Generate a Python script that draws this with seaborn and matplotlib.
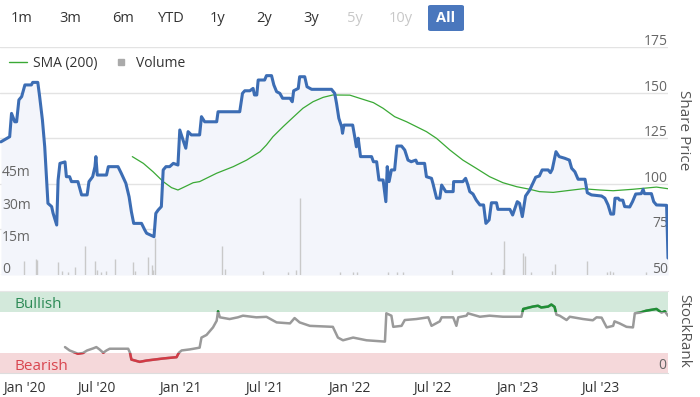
import matplotlib
matplotlib.use("Agg")
import matplotlib.pyplot as plt
import matplotlib.transforms as mtransforms
from matplotlib.lines import Line2D
from matplotlib.patches import FancyBboxPatch
import seaborn as sns
import pandas as pd

# ---- data ----
price_dates = [
    "2019-12-08", "2019-12-27", "2019-12-31", "2020-01-07", "2020-01-11", "2020-01-16", "2020-01-22",
    "2020-01-29", "2020-02-12", "2020-02-15", "2020-02-26", "2020-03-01", "2020-03-07", "2020-03-12",
    "2020-03-19", "2020-03-27", "2020-03-30", "2020-04-07", "2020-04-10", "2020-04-14", "2020-04-25",
    "2020-04-28", "2020-05-05", "2020-05-09", "2020-05-23", "2020-05-31", "2020-06-12", "2020-06-16",
    "2020-06-24", "2020-06-29", "2020-07-01", "2020-07-04", "2020-07-24", "2020-07-28", "2020-08-18",
    "2020-08-25", "2020-09-04", "2020-09-11", "2020-09-16", "2020-09-21", "2020-10-08", "2020-10-15",
    "2020-10-19", "2020-11-04", "2020-11-08", "2020-11-13", "2020-11-20", "2020-11-24", "2020-11-30",
    "2020-12-08", "2020-12-16", "2020-12-26", "2020-12-30", "2021-01-06", "2021-01-12", "2021-01-17",
    "2021-01-24", "2021-02-11", "2021-02-15", "2021-02-22", "2021-03-20", "2021-03-23", "2021-05-09",
    "2021-05-15", "2021-05-20", "2021-05-31", "2021-06-07", "2021-06-10", "2021-06-15", "2021-06-18",
    "2021-07-02", "2021-07-06", "2021-07-17", "2021-07-22", "2021-07-28", "2021-08-04", "2021-08-10",
    "2021-08-26", "2021-08-31", "2021-09-03", "2021-09-13", "2021-09-16", "2021-09-27", "2021-10-02",
    "2021-10-12", "2021-11-24", "2021-12-01", "2021-12-05", "2021-12-10", "2021-12-16", "2021-12-18",
    "2021-12-21", "2022-01-09", "2022-01-14", "2022-01-17", "2022-01-21", "2022-01-26", "2022-02-19",
    "2022-02-23", "2022-03-02", "2022-03-07", "2022-03-16", "2022-03-22", "2022-03-25", "2022-03-29",
    "2022-04-03", "2022-04-10", "2022-04-15", "2022-04-25", "2022-05-02", "2022-05-09", "2022-05-16",
    "2022-05-26", "2022-05-29", "2022-06-14", "2022-06-18", "2022-06-29", "2022-07-02", "2022-07-10",
    "2022-07-17", "2022-07-21", "2022-07-30", "2022-08-15", "2022-08-16", "2022-09-05", "2022-09-11",
    "2022-09-16", "2022-09-20", "2022-09-27", "2022-10-04", "2022-10-12", "2022-10-20", "2022-10-25",
    "2022-11-01", "2022-11-06", "2022-11-17", "2022-11-20", "2022-12-16", "2022-12-22", "2023-01-01",
    "2023-01-06", "2023-01-12", "2023-01-19", "2023-01-28", "2023-02-04", "2023-02-10", "2023-02-18",
    "2023-02-24", "2023-03-09", "2023-03-14", "2023-03-18", "2023-03-26", "2023-04-02", "2023-04-14",
    "2023-04-24", "2023-04-29", "2023-05-06", "2023-05-13", "2023-05-28", "2023-06-02", "2023-06-11",
    "2023-07-03", "2023-07-10", "2023-07-17", "2023-07-23", "2023-07-29", "2023-08-01", "2023-08-08",
    "2023-08-11", "2023-08-18", "2023-08-22", "2023-09-02", "2023-09-08", "2023-09-15", "2023-09-27",
    "2023-10-01", "2023-10-04", "2023-10-19", "2023-10-24", "2023-10-30", "2023-11-21", "2023-11-24",
]
price_values = [
    123.0, 125.8, 138.6, 134.0, 134.0, 146.0, 147.8,
    154.2, 154.2, 155.6, 155.6, 147.8, 135.0, 120.3,
    89.3, 87.5, 84.0, 77.4, 102.0, 111.2, 112.0,
    103.9, 103.9, 101.2, 101.2, 93.9, 93.9, 101.2,
    103.9, 109.4, 114.9, 104.8, 104.8, 109.4, 109.4,
    105.8, 100.3, 92.9, 84.7, 78.3, 78.3, 74.7,
    72.9, 71.0, 83.8, 85.6, 87.5, 107.6, 109.4,
    109.4, 111.2, 110.3, 129.5, 124.0, 119.5, 128.6,
    126.8, 126.8, 136.8, 134.0, 134.0, 139.5, 139.5,
    149.6, 151.0, 151.0, 152.3, 148.7, 148.7, 156.9,
    156.9, 159.3, 159.3, 154.2, 150.5, 149.6, 146.9,
    146.9, 145.0, 151.0, 152.3, 158.7, 158.7, 153.2,
    151.8, 151.8, 149.6, 144.1, 135.9, 131.3, 127.7,
    132.2, 132.2, 125.0, 120.3, 125.0, 114.9, 114.9,
    112.1, 112.1, 102.1, 102.1, 90.2, 109.4, 101.2,
    107.6, 107.6, 120.7, 120.7, 118.5, 113.0, 112.1,
    113.0, 111.2, 111.2, 103.9, 103.0, 100.3, 92.1,
    92.1, 99.3, 95.7, 95.7, 101.2, 101.2, 103.0,
    99.3, 95.7, 94.4, 91.1, 88.4, 88.4, 78.3,
    80.2, 89.6, 89.6, 86.0, 86.0, 82.9, 90.2,
    89.3, 82.0, 93.3, 96.6, 100.3, 103.6, 104.3,
    107.6, 107.6, 106.1, 108.0, 117.6, 114.9, 114.0,
    113.0, 108.5, 106.6, 102.5, 102.5, 95.1, 93.9,
    93.3, 92.1, 88.4, 83.4, 83.4, 92.1, 92.1,
    91.1, 91.0, 87.5, 87.3, 90.2, 94.4, 94.6,
    97.0, 94.6, 94.6, 90.2, 88.4, 88.2, 59.3,
]

sma_dates = [
    "2020-09-18", "2020-10-12", "2020-11-02", "2020-11-24", "2020-12-12", "2020-12-26", "2021-01-10",
    "2021-01-28", "2021-02-11", "2021-03-20", "2021-04-25", "2021-05-24", "2021-06-22", "2021-07-06",
    "2021-07-20", "2021-08-11", "2021-09-02", "2021-09-23", "2021-10-15", "2021-11-06", "2021-11-27",
    "2022-01-03", "2022-01-24", "2022-02-23", "2022-03-16", "2022-04-10", "2022-05-06", "2022-06-18",
    "2022-07-10", "2022-08-08", "2022-09-05", "2022-10-04", "2022-11-02", "2022-12-01", "2022-12-31",
    "2023-01-28", "2023-02-18", "2023-03-20", "2023-04-18", "2023-05-24", "2023-06-29", "2023-07-28",
    "2023-09-09", "2023-10-30", "2023-11-24",
]
sma_values = [
    114.9, 111.2, 106.6, 101.2, 97.9, 96.6, 98.4,
    100.6, 101.2, 105.8, 109.4, 113.0, 117.6, 121.3,
    125.8, 131.3, 136.5, 141.4, 145.0, 147.4, 148.7,
    148.6, 146.9, 144.5, 141.4, 136.8, 134.0, 128.6,
    124.9, 118.5, 113.0, 108.5, 103.9, 100.6, 98.4,
    97.0, 95.7, 95.3, 96.2, 97.3, 96.6, 96.2,
    97.0, 98.2, 97.3,
]

volume_dates = [
    "2020-01-27", "2020-02-22", "2020-02-25", "2020-04-10", "2020-04-18", "2020-05-02", "2020-05-17",
    "2020-06-07", "2020-06-30", "2020-07-04", "2020-07-13", "2020-07-24", "2020-08-11", "2020-09-19",
    "2020-09-24", "2020-10-21", "2020-10-30", "2020-11-02", "2020-11-06", "2021-03-31", "2021-04-07",
    "2021-06-28", "2021-08-22", "2021-09-09", "2021-09-16", "2021-12-12", "2022-01-10", "2022-01-18",
    "2022-03-26", "2022-04-15", "2022-04-28", "2022-08-13", "2022-11-06", "2022-12-01", "2022-12-03",
    "2023-01-14", "2023-01-18", "2023-01-30", "2023-03-18", "2023-03-23", "2023-06-02", "2023-07-14",
    "2023-07-21", "2023-07-28", "2023-10-08",
]
volume_millions = [
    6.5, 7.3, 7.0, 6.2, 2.0, 1.5, 3.5,
    13.5, 6.5, 2.5, 1.5, 2.0, 7.3, 6.0,
    2.0, 8.5, 4.5, 2.5, 17.0, 13.5, 3.0,
    2.0, 1.5, 2.5, 36.0, 1.5, 1.2, 1.2,
    1.2, 1.2, 1.2, 2.5, 1.2, 3.0, 16.0,
    10.0, 9.0, 1.5, 2.0, 5.0, 6.6, 1.2,
    1.8, 1.2, 1.2,
]

rank_dates = [
    "2020-04-25", "2020-05-05", "2020-05-23", "2020-06-03", "2020-06-12", "2020-06-25", "2020-07-02",
    "2020-07-09", "2020-07-17", "2020-07-24", "2020-07-31", "2020-09-09", "2020-09-13", "2020-09-16",
    "2020-10-04", "2020-10-19", "2020-11-24", "2020-12-23", "2020-12-28", "2021-01-03", "2021-01-21",
    "2021-02-11", "2021-02-15", "2021-02-26", "2021-03-12", "2021-03-20", "2021-03-23", "2021-03-27",
    "2021-04-17", "2021-05-05", "2021-05-16", "2021-06-14", "2021-07-06", "2021-07-28", "2021-08-26",
    "2021-09-05", "2021-09-16", "2021-10-08", "2021-11-27", "2021-12-08", "2021-12-19", "2022-01-10",
    "2022-02-08", "2022-03-20", "2022-03-23", "2022-04-03", "2022-04-07", "2022-04-25", "2022-05-02",
    "2022-05-27", "2022-06-22", "2022-06-29", "2022-07-17", "2022-07-21", "2022-08-15", "2022-08-22",
    "2022-08-26", "2022-09-13", "2022-09-16", "2022-10-12", "2022-11-02", "2022-12-01", "2023-01-10",
    "2023-01-14", "2023-02-04", "2023-02-15", "2023-02-22", "2023-03-09", "2023-03-16", "2023-03-23",
    "2023-03-27", "2023-04-03", "2023-04-18", "2023-04-25", "2023-05-24", "2023-06-14", "2023-06-22",
    "2023-07-03", "2023-07-14", "2023-07-28", "2023-07-31", "2023-08-11", "2023-08-26", "2023-09-09",
    "2023-09-13", "2023-09-24", "2023-10-08", "2023-10-30", "2023-11-10", "2023-11-17", "2023-11-24",
]
rank_values = [
    31.6, 27.5, 23.5, 24.4, 27.5, 30.0, 31.6,
    28.7, 24.7, 27.5, 29.6, 29.6, 24.7, 16.4,
    13.6, 15.2, 17.7, 19.3, 24.7, 27.5, 28.8,
    30.9, 43.2, 46.4, 55.6, 63.7, 75.3, 67.9,
    65.8, 67.9, 69.9, 67.9, 68.5, 61.7, 60.5,
    67.0, 61.7, 57.5, 56.3, 43.2, 39.9, 43.2,
    39.9, 38.3, 72.8, 69.9, 56.3, 57.5, 64.6,
    65.8, 67.9, 57.5, 63.0, 67.9, 67.9, 57.5,
    67.9, 69.9, 72.8, 68.6, 69.9, 68.6, 68.6,
    78.1, 81.0, 82.0, 79.9, 81.0, 83.5, 80.6,
    71.1, 69.9, 64.6, 68.6, 65.8, 64.3, 67.9,
    67.5, 55.6, 57.5, 63.0, 60.5, 56.3, 55.6,
    72.8, 73.6, 76.0, 78.1, 73.6, 75.3, 69.9,
]

range_buttons = ["1m", "3m", "6m", "YTD", "1y", "2y", "3y", "5y", "10y", "All"]
disabled_buttons = ["5y", "10y"]
price_ticks = [50, 75, 100, 125, 150, 175]
volume_ticks = [0, 15, 30, 45]
date_ticks = ["2020-01-01", "2020-07-01", "2021-01-01", "2021-07-01",
              "2022-01-01", "2022-07-01", "2023-01-01", "2023-07-01"]
date_labels = ["Jan '20", "Jul '20", "Jan '21", "Jul '21",
               "Jan '22", "Jul '22", "Jan '23", "Jul '23"]

price_df = pd.DataFrame({"date": pd.to_datetime(price_dates), "price": price_values})
sma_df = pd.DataFrame({"date": pd.to_datetime(sma_dates), "sma": sma_values})
vol_df = pd.DataFrame({"date": pd.to_datetime(volume_dates), "vol": volume_millions})
rank_df = pd.DataFrame({"date": pd.to_datetime(rank_dates), "rank": rank_values})

# ---- style ----
sns.set_style("white")
plt.rcParams["font.family"] = ["Open Sans", "DejaVu Sans"]

W, H = 700, 397
BLUE = "#3c6db4"
GREEN = "#3aa935"
TXT = "#333333"
AXTXT = "#666666"

fig = plt.figure(figsize=(W / 100, H / 100), dpi=100)


def box(x0, y0, x1, y1):
    # pixel box (top-left origin) -> figure fraction rect
    return [x0 / W, 1 - y1 / H, (x1 - x0) / W, (y1 - y0) / H]


xmin, xmax = pd.Timestamp("2019-12-06"), pd.Timestamp("2023-11-24")

# base layer: price scale, fill and grid
ax = fig.add_axes(box(0, 47, 668, 275))
ax.set_xlim(xmin, xmax)
ax.set_ylim(50, 175)
ax.fill_between(price_df["date"], price_df["price"], 50, color="#f3f5fb", lw=0)
for t in price_ticks:
    ax.axhline(t, color="#e3e3e3", lw=1, zorder=0)
ax.set_xticks([])
ax.set_yticks([])
for s in ax.spines.values():
    s.set_visible(False)

# volume layer
vax = ax.twinx()
vax.set_ylim(0, 106)
vax.vlines(vol_df["date"], 0, vol_df["vol"], color="#c9c9c9", lw=1)
vax.set_yticks([])
vax.patch.set_visible(False)
for s in vax.spines.values():
    s.set_visible(False)

# line layer
lax = ax.twinx()
lax.set_ylim(50, 175)
lax.patch.set_visible(False)
sns.lineplot(data=sma_df, x="date", y="sma", ax=lax, color=GREEN, lw=0.9, estimator=None)
sns.lineplot(data=price_df, x="date", y="price", ax=lax, color=BLUE, lw=2.2, estimator=None)
lax.set_xlim(xmin, xmax)
lax.set_yticks([])
lax.set_xlabel("")
lax.set_ylabel("")
for s in lax.spines.values():
    s.set_visible(False)

blend = (ax.transAxes, ax.transData)
for t in price_ticks:
    ax.annotate(str(t), xy=(1, t), xycoords=blend, xytext=(0, -1.5), textcoords="offset points",
                ha="right", va="bottom", color=AXTXT, fontsize=10, annotation_clip=False)
for t in volume_ticks:
    lab = "0" if t == 0 else f"{t}m"
    vax.annotate(lab, xy=(0, t), xycoords=(vax.transAxes, vax.transData), xytext=(1.5, -1.5),
                 textcoords="offset points", ha="left", va="bottom", color=AXTXT, fontsize=10)

fig.text(684 / W, 1 - 130 / H, "Share Price", rotation=270, ha="center", va="center",
         color="#555555", fontsize=11)

handles = [Line2D([], [], color=GREEN, lw=1),
           Line2D([], [], color="#aaaaaa", marker="s", ls="", markersize=5)]
ax.legend(handles, ["SMA (200)", "Volume"], loc="upper left", bbox_to_anchor=(9 / W, 1 - 56 / H),
          bbox_transform=fig.transFigure, ncol=2, frameon=False, fontsize=10, handlelength=1.3,
          handletextpad=0.45, columnspacing=1.0, labelcolor=TXT, borderaxespad=0, borderpad=0)

# ---- StockRank panel ----
rax = fig.add_axes(box(0, 291, 668, 373))
rax.set_xlim(xmin, xmax)
rax.set_ylim(0, 100)
bull = rax.axhspan(75, 100, color="#d3e9db", lw=0)
bear = rax.axhspan(0, 25, color="#f5d8da", lw=0)
sns.lineplot(data=rank_df, x="date", y="rank", ax=rax, color="#9a9a9a", lw=1.8, estimator=None)
sns.lineplot(data=rank_df, x="date", y="rank", ax=rax, color="#d23a45", lw=1.8, estimator=None)
rax.lines[-1].set_clip_path(bear)
sns.lineplot(data=rank_df, x="date", y="rank", ax=rax, color="#1f8f35", lw=1.8, estimator=None)
rax.lines[-1].set_clip_path(bull)
rax.set_xlabel("")
rax.set_ylabel("")
rax.set_yticks([])
rax.text(14 / 668, 84, "Bullish", transform=rax.get_yaxis_transform(), color="#2e8b57",
         fontsize=11, va="center")
rax.text(14 / 668, 8, "Bearish", transform=rax.get_yaxis_transform(), color="#d9464f",
         fontsize=11, va="center")
rax.text(0.997, 9, "0", transform=rax.get_yaxis_transform(), color=AXTXT, fontsize=10,
         ha="right", va="center")
for side in ["left", "right"]:
    rax.spines[side].set_visible(False)
rax.spines["top"].set_color("#e6e6e6")
rax.spines["bottom"].set_color("#dddddd")
rax.set_xticks(pd.to_datetime(date_ticks))
rax.set_xticklabels(date_labels)
rax.tick_params(axis="x", length=5, color="#cccccc", labelsize=10, labelcolor=TXT, pad=1)
first = rax.get_xticklabels()[0]
first.set_transform(first.get_transform() + mtransforms.ScaledTranslation(0.12, 0, fig.dpi_scale_trans))

fig.text(684 / W, 1 - 331 / H, "StockRank", rotation=270, ha="center", va="center",
         color="#555555", fontsize=11)

# ---- range selector buttons ----
button_x = [22, 70, 123, 171, 218, 264, 311, 355, 401, 446]
for lab, bx in zip(range_buttons, button_x):
    if lab == "All":
        fig.patches.append(FancyBboxPatch(((bx - 18) / W, 1 - 31 / H), 36 / W, 26 / H,
                                          boxstyle="round,pad=0,rounding_size=0.004",
                                          transform=fig.transFigure, color="#4a77bd", lw=0))
        fig.text(bx / W, 1 - 18 / H, lab, ha="center", va="center", color="white",
                 fontsize=10.5, fontweight="bold")
    else:
        col = "#c8c8c8" if lab in disabled_buttons else TXT
        fig.text(bx / W, 1 - 18 / H, lab, ha="center", va="center", color=col, fontsize=10.5)

fig.savefig("out.png", dpi=100)
